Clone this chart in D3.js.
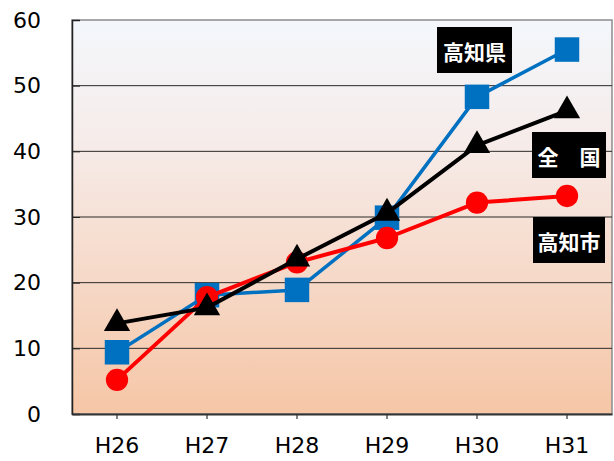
<!DOCTYPE html>
<html>
<head>
<meta charset="utf-8">
<script src="https://cdn.jsdelivr.net/npm/d3@7"></script>
<style>
  html, body { margin: 0; padding: 0; background: #fff; }
  svg { display: block; }
</style>
</head>
<body>
<svg id="chart" width="614" height="461"></svg>
<script>
// Survey years (Heisei era)
const years = ["H26", "H27", "H28", "H29", "H30", "H31"];
// Values per region
const kochiPref = [9.4, 18.1, 18.9, 29.9, 48.3, 55.5];   // 高知県
const national  = [13.8, 16.2, 23.6, 30.6, 40.9, 46.2];  // 全国
const kochiCity = [5.2, 17.8, 23.1, 26.8, 32.2, 33.2];   // 高知市
const yTicks = [0, 10, 20, 30, 40, 50, 60];

const svg = d3.select("#chart");
const margin = { left: 72, right: 2, top: 20, bottom: 47 };
const W = 614, H = 461;
const x0 = margin.left, x1 = W - margin.right;
const y0 = H - margin.bottom, y1 = margin.top;

const x = d3.scaleBand().domain(years).range([x0, x1]);
const y = d3.scaleLinear().domain([0, 60]).range([y0, y1]);
const cx = d => x(d) + x.bandwidth() / 2;

// Plot background gradient
const defs = svg.append("defs");
const grad = defs.append("linearGradient")
  .attr("id", "bg").attr("x1", 0).attr("y1", 0).attr("x2", 0).attr("y2", 1);
grad.append("stop").attr("offset", "0%").attr("stop-color", "#f3f7fc");
grad.append("stop").attr("offset", "30%").attr("stop-color", "#f6ecea");
grad.append("stop").attr("offset", "100%").attr("stop-color", "#f6c6a6");

svg.append("rect")
  .attr("x", x0).attr("y", y1)
  .attr("width", x1 - x0).attr("height", y0 - y1)
  .attr("fill", "url(#bg)")
  .attr("stroke", "#8c8c8c").attr("stroke-width", 1.5);

// Horizontal gridlines
svg.append("g")
  .selectAll("line")
  .data(yTicks.filter(t => t > 0 && t < 60))
  .join("line")
  .attr("x1", x0).attr("x2", x1)
  .attr("y1", d => y(d)).attr("y2", d => y(d))
  .attr("stroke", "#2a2a2a").attr("stroke-width", 1);

const tickFont = "Verdana, 'DejaVu Sans', sans-serif";

// Y axis (ticks point into the plot)
const yAxis = svg.append("g")
  .attr("transform", `translate(${x0},0)`)
  .call(d3.axisLeft(y).tickValues(yTicks).tickSize(-8).tickPadding(31));
yAxis.select(".domain").attr("stroke", "#222").attr("stroke-width", 1.5);
yAxis.selectAll(".tick line").attr("stroke", "#222");
yAxis.selectAll("text")
  .attr("font-family", tickFont)
  .attr("font-size", 22).attr("fill", "#000");

// X axis
const xAxis = svg.append("g")
  .attr("transform", `translate(0,${y0})`)
  .call(d3.axisBottom(x).tickSize(5).tickPadding(18).tickSizeOuter(0));
xAxis.select(".domain").attr("stroke", "#333").attr("stroke-width", 2);
xAxis.selectAll(".tick line").attr("stroke", "#333").attr("stroke-width", 1.2);
xAxis.selectAll("text")
  .attr("font-family", tickFont)
  .attr("font-size", 22).attr("fill", "#000");

const line = d3.line().x((d, i) => cx(years[i])).y(d => y(d));

function drawSeries(values, color, width, symbolType, size) {
  const g = svg.append("g");
  g.append("path")
    .datum(values)
    .attr("d", line)
    .attr("fill", "none")
    .attr("stroke", color)
    .attr("stroke-width", width)
    .attr("stroke-linejoin", "round");
  g.selectAll("path.mark")
    .data(values)
    .join("path")
    .attr("class", "mark")
    .attr("transform", (d, i) => `translate(${cx(years[i])},${y(d)})`)
    .attr("d", d3.symbol().type(symbolType).size(size))
    .attr("fill", color);
}

drawSeries(kochiPref, "#0070c0", 3.5, d3.symbolSquare, 600);
drawSeries(kochiCity, "#ff0000", 4, d3.symbolCircle, 390);
drawSeries(national, "#000000", 4, d3.symbolTriangle, 300);

// Series labels
const labels = [
  { text: "高知県", x: 437, y: 27, w: 75, h: 46 },
  { text: "全\u3000国", x: 532, y: 132, w: 74, h: 46 },
  { text: "高知市", x: 533, y: 217, w: 72, h: 46 }
];
const lg = svg.append("g");
labels.forEach(l => {
  lg.append("rect")
    .attr("x", l.x).attr("y", l.y).attr("width", l.w).attr("height", l.h)
    .attr("fill", "#000");
  lg.append("text")
    .attr("x", l.x + l.w / 2).attr("y", l.y + l.h / 2 + 1)
    .attr("text-anchor", "middle").attr("dominant-baseline", "central")
    .attr("font-family", "'Noto Sans CJK JP', sans-serif")
    .attr("font-weight", "bold").attr("font-size", 21)
    .attr("fill", "#fff")
    .text(l.text);
});
</script>
</body>
</html>
